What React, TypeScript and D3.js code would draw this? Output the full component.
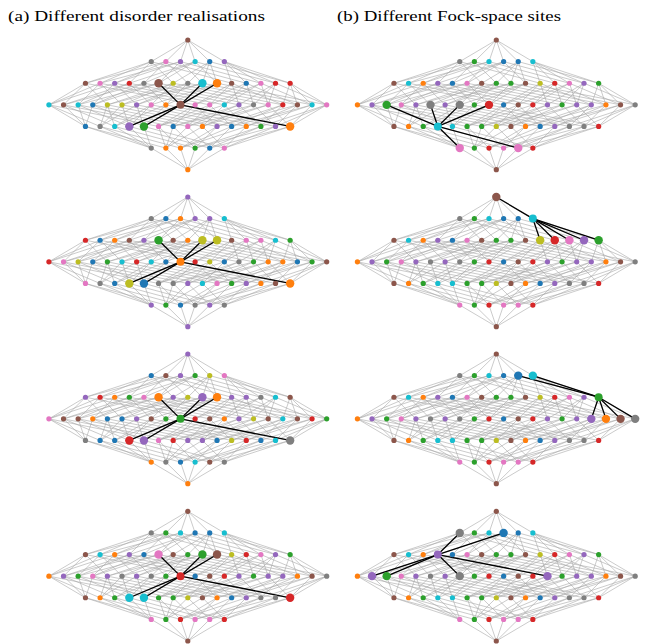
import { useEffect, useRef } from 'react';
import * as d3 from 'd3';

// tab10 colour index per node, row by row (row = number of occupied sites,
// nodes in a row sorted by their integer label)
const realisationA = [
  [5],
  [7, 6, 4, 9, 0, 4],
  [5, 6, 4, 3, 7, 5, 8, 7, 9, 1, 5, 0, 6, 3, 3],
  [9, 5, 9, 0, 8, 8, 4, 6, 1, 5, 6, 6, 9, 4, 7, 6, 3, 5, 9, 6],
  [0, 7, 9, 4, 2, 6, 0, 6, 1, 4, 0, 1, 2, 4, 1],
  [7, 1, 1, 2, 0, 6],
  [1],
];
const realisationB = [
  [4],
  [7, 0, 1, 4, 4, 9],
  [3, 0, 1, 5, 4, 2, 5, 1, 8, 8, 5, 6, 6, 9, 2],
  [3, 6, 8, 0, 2, 9, 3, 9, 0, 1, 3, 8, 0, 7, 2, 1, 1, 0, 2, 5],
  [6, 7, 0, 8, 0, 7, 7, 4, 9, 6, 2, 4, 1, 5, 1],
  [4, 2, 0, 7, 4, 7],
  [4],
];
const realisationC = [
  [4],
  [0, 5, 4, 2, 8, 6],
  [4, 3, 1, 2, 6, 1, 4, 8, 4, 1, 4, 4, 7, 9, 5],
  [6, 5, 5, 1, 0, 0, 4, 5, 2, 2, 3, 5, 1, 4, 8, 5, 9, 5, 3, 2],
  [7, 0, 0, 3, 4, 6, 3, 4, 4, 0, 8, 3, 0, 9, 7],
  [1, 7, 0, 9, 5, 7],
  [1],
];
const realisationD = [
  [5],
  [7, 2, 9, 0, 0, 9],
  [5, 9, 1, 4, 0, 6, 5, 2, 2, 5, 8, 3, 6, 4, 2],
  [1, 4, 2, 6, 4, 7, 4, 7, 2, 3, 0, 5, 3, 4, 2, 4, 4, 1, 5, 7],
  [5, 1, 2, 9, 9, 2, 2, 8, 5, 1, 0, 4, 7, 7, 3],
  [6, 2, 3, 6, 6, 3],
  [5],
];

// column (a): same site, four disorder realisations
const columnARealisations = [realisationA, realisationB, realisationC, realisationD];
const columnASites = [28, 28, 28, 28];
// column (b): one realisation, four different sites
const columnBRealisations = [realisationD, realisationD, realisationD, realisationD];
const columnBSites = [29, 32, 48, 9];

const titles = ['(a) Different disorder realisations', '(b) Different Fock-space sites'];

const L = 6;

export default function App() {
  const svgRef = useRef<SVGSVGElement>(null);

  useEffect(() => {
    const width = 646;
    const height = 644;
    const svg = d3.select(svgRef.current);
    svg.selectAll('*').remove();

    const palette = d3.schemeCategory10;
    const popcount = (v: number) => v.toString(2).split('').filter((c) => c === '1').length;

    // nodes of the 2^L hypercube grouped into rows by popcount
    const rows: number[][] = d3.range(L + 1).map(() => []);
    d3.range(1 << L).forEach((v) => rows[popcount(v)].push(v));
    const rowOf = new Map<number, [number, number]>();
    rows.forEach((r, k) => r.forEach((v, i) => rowOf.set(v, [k, i])));

    const edges: [number, number][] = [];
    d3.range(1 << L).forEach((v) => {
      d3.range(L).forEach((b) => {
        const u = v | (1 << b);
        if (u !== v) edges.push([v, u]);
      });
    });

    const dx = 14.62;
    const columnCentres = [187.8, 496.3];
    const panelTops = [40, 197, 354, 511.3];

    const y = d3.scaleLinear().domain([0, L]).range([0, 129.7]);

    const drawPanel = (cx: number, top: number, colours: number[][], site: number) => {
      const x = d3.scaleLinear().domain([-1, 1]).range([cx - dx, cx + dx]);
      const pos = (v: number) => {
        const [k, i] = rowOf.get(v)!;
        const n = rows[k].length;
        return [x(i - (n - 1) / 2), top + y(k)];
      };
      const g = svg.append('g');

      g.append('g')
        .selectAll('line')
        .data(edges)
        .join('line')
        .attr('x1', (d) => pos(d[0])[0])
        .attr('y1', (d) => pos(d[0])[1])
        .attr('x2', (d) => pos(d[1])[0])
        .attr('y2', (d) => pos(d[1])[1])
        .attr('stroke', '#a8a8a8')
        .attr('stroke-opacity', 0.7)
        .attr('stroke-width', 0.85);

      const neighbours = d3.range(L).map((b) => site ^ (1 << b));
      const highlighted = new Set([site, ...neighbours]);

      g.append('g')
        .selectAll('line')
        .data(neighbours)
        .join('line')
        .attr('x1', pos(site)[0])
        .attr('y1', pos(site)[1])
        .attr('x2', (d) => pos(d)[0])
        .attr('y2', (d) => pos(d)[1])
        .attr('stroke', '#000')
        .attr('stroke-width', 1.3);

      const nodes = d3.range(1 << L).sort((a, b) => +highlighted.has(a) - +highlighted.has(b));
      g.append('g')
        .selectAll('circle')
        .data(nodes)
        .join('circle')
        .attr('cx', (d) => pos(d)[0])
        .attr('cy', (d) => pos(d)[1])
        .attr('r', (d) => (d === site ? 4.0 : highlighted.has(d) ? 4.2 : 2.6))
        .attr('fill', (d) => {
          const [k, i] = rowOf.get(d)!;
          return palette[colours[k][i]];
        });
    };

    columnARealisations.forEach((c, p) => drawPanel(columnCentres[0], panelTops[p], c, columnASites[p]));
    columnBRealisations.forEach((c, p) => drawPanel(columnCentres[1], panelTops[p], c, columnBSites[p]));

    svg.attr('width', width).attr('height', height);

    svg.selectAll('.title')
      .data(titles)
      .join('text')
      .attr('class', 'title')
      .attr('x', (d, i) => (i === 0 ? 8 : 337))
      .attr('y', 21)
      .attr('textLength', (d, i) => (i === 0 ? 257 : 224))
      .attr('lengthAdjust', 'spacingAndGlyphs')
      .style('font-family', '"Liberation Serif", "DejaVu Serif", serif')
      .style('font-size', '15.5px')
      .attr('fill', '#000')
      .text((d) => d);
  }, []);

  return (
    <svg
      ref={svgRef}
      width={646}
      height={644}
      style={{ position: 'absolute', left: 0, top: 0, background: '#fff' }}
    />
  );
}
